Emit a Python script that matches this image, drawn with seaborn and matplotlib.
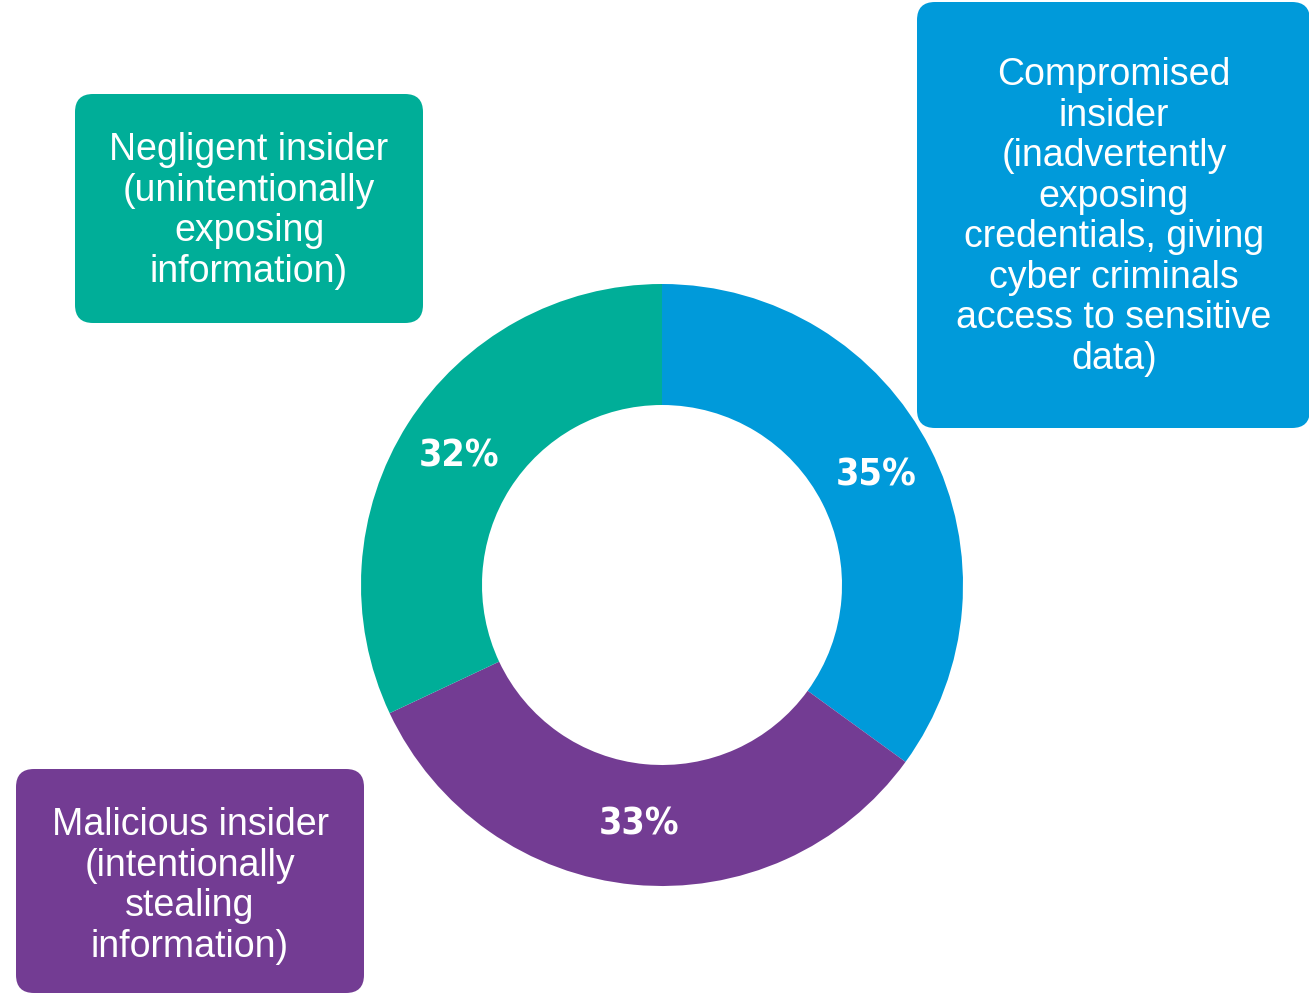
import matplotlib
matplotlib.use("Agg")
import matplotlib.pyplot as plt
from matplotlib.patches import FancyBboxPatch
from matplotlib import font_manager as fm
import seaborn as sns
import numpy as np

# ---- data ----
categories = ["Compromised insider", "Malicious insider", "Negligent insider"]
values = [35, 33, 32]
pct_labels = ["35%", "33%", "32%"]
colors_hex = ["#009ADA", "#733C93", "#00AE98"]
box_texts = [
    "Compromised\ninsider\n(inadvertently\nexposing\ncredentials, giving\ncyber criminals\naccess to sensitive\ndata)",
    "Malicious insider\n(intentionally\nstealing\ninformation)",
    "Negligent insider\n(unintentionally\nexposing\ninformation)",
]

sns.set_theme(style="white")
plt.rcParams['font.family'] = ['Liberation Sans', 'DejaVu Sans']
palette = sns.color_palette(colors_hex)

W, H = 1309, 994
fig = plt.figure(figsize=(W / 100, H / 100), dpi=100)
ax = fig.add_axes([0, 0, 1, 1])

def Y(yp):
    return H - yp

# donut
cx, cy, R, ring = 662, 585, 301, 121
wedges, _ = ax.pie(values, colors=palette, startangle=90, counterclock=False,
                   center=(cx, Y(cy)), radius=R,
                   wedgeprops=dict(width=ring, linewidth=0))
ax.set_xlim(0, W)
ax.set_ylim(0, H)
ax.set_aspect('equal')
ax.set_axis_off()

pct_fp = fm.FontProperties(family='DejaVu Sans', weight='bold', stretch='condensed', size=27)
cum = np.cumsum([0] + values)
total = sum(values)
rmid = R - ring / 2
for i, lab in enumerate(pct_labels):
    mid = (cum[i] + cum[i + 1]) / 2 / total * 360
    ang = np.deg2rad(90 - mid)
    ax.text(cx + rmid * np.cos(ang), Y(cy) + rmid * np.sin(ang), lab,
            ha='center', va='center', color='white', fontproperties=pct_fp)

# boxes: (x0, y0, x1, y1) in pixel coords, text centre
boxes = [
    ((917, 2, 1310, 428), (1114, 217)),
    ((16, 769, 364, 993), (190, 886)),
    ((75, 94, 423, 323), (249, 211)),
]
for (b, tc), col, txt in zip(boxes, palette, box_texts):
    x0, y0, x1, y1 = b
    p = FancyBboxPatch((x0, Y(y1)), x1 - x0, y1 - y0,
                       boxstyle="round,pad=0,rounding_size=18",
                       facecolor=col, edgecolor='none')
    ax.add_patch(p)
    ax.text(tc[0], Y(tc[1]), txt, ha='center', va='center', color='white',
            fontsize=27, linespacing=1.16, multialignment='center')

fig.savefig("out.png", dpi=100)
